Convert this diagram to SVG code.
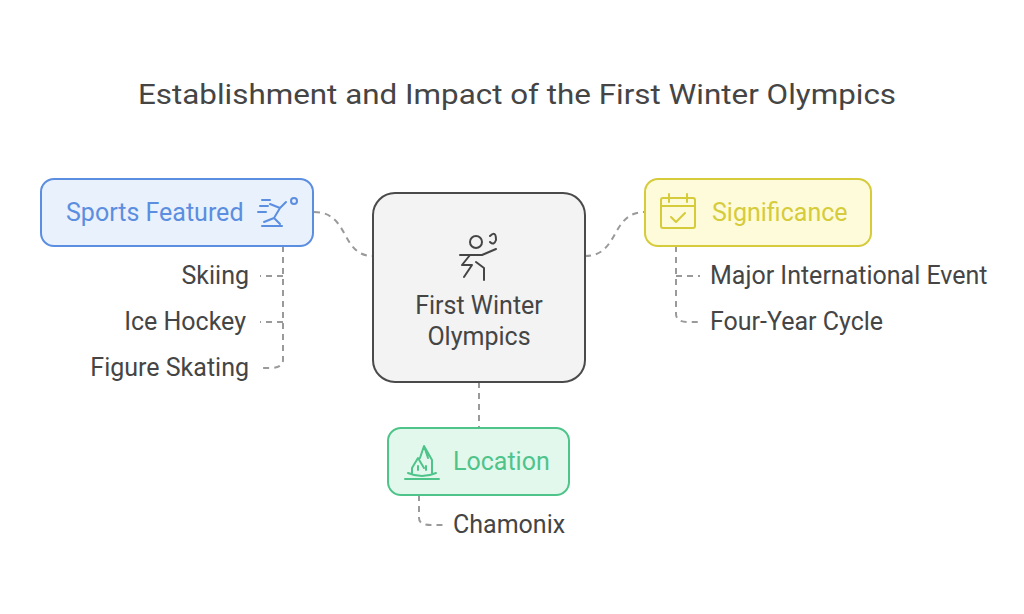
<svg xmlns="http://www.w3.org/2000/svg" width="1024" height="614" viewBox="0 0 1024 614">
<style>
text{font-family:Roboto,"Liberation Sans",sans-serif}
.t{font-size:25px;fill:#454545}
.c{fill:none;stroke:#9a9a9a;stroke-width:2;stroke-dasharray:6 5}
.ic{fill:none;stroke-width:2;stroke-linecap:round;stroke-linejoin:round}
</style>
<rect width="1024" height="614" fill="#fff"/>
<text x="138" y="104" textLength="758" lengthAdjust="spacingAndGlyphs" style="font-size:28px;fill:#454545">Establishment and Impact of the First Winter Olympics</text>
<g id="connectors">
<path class="c" d="M314,212 C350,212 340,256 373,256"/>
<path class="c" d="M585,256 C620,256 610,212 645,212"/>
<path class="c" d="M479,382 V428"/>
<path class="c" d="M283,246 V360 Q283,368 270,368 H260"/>
<path class="c" d="M283,276 H260 M283,322 H260"/>
<path class="c" d="M676,246 V314 Q676,322 688,322 H700"/>
<path class="c" d="M676,276 H700"/>
<path class="c" d="M419,495 V518 Q419,525 431,525 H443"/>
</g>
<g id="sports">
<rect x="41" y="179" width="272" height="67" rx="13" fill="#e9f1fd" stroke="#5b8ee0" stroke-width="2"/>
<text x="66" y="221" style="font-size:25px;fill:#5b8ee0">Sports Featured</text>
<g class="ic" stroke="#5b8ee0"><path d="M262,200 h8 M260,206 h8 M258,212 h8 M270,204 l10,4 l6,-6 M280,208 l-6,10 l6,6 M274,218 l-10,4 M262,226 h20"/><circle cx="294" cy="201" r="3"/></g>
</g>
<g id="center">
<rect x="373" y="193" width="212" height="189" rx="22" fill="#f3f3f3" stroke="#4a4a4a" stroke-width="2"/>
<g class="ic" stroke="#454545"><circle cx="476" cy="242" r="6"/><path d="M460,255 h22 l14,-6 M470,255 l-8,10 h10 l-8,12 M476,262 l8,6 v12 M490,236 q6,-6 6,4 q-2,6 -6,2"/></g>
<text x="479" y="314" text-anchor="middle" class="t">First Winter</text>
<text x="479" y="345" text-anchor="middle" class="t">Olympics</text>
</g>
<g id="significance">
<rect x="645" y="179" width="226" height="67" rx="13" fill="#fdfbd9" stroke="#d6cb3a" stroke-width="2"/>
<g class="ic" stroke="#d6cb3a"><rect x="661" y="198" width="34" height="30" rx="2"/><path d="M661,206 h34 M669,194 v8 M687,194 v8 M671,217 l5,5 l9,-9"/></g>
<text x="712" y="221" style="font-size:25px;fill:#d6cb3a">Significance</text>
</g>
<g id="location">
<rect x="388" y="428" width="181" height="67" rx="13" fill="#e3f8ec" stroke="#4ec48a" stroke-width="2"/>
<g class="ic" stroke="#4ec48a"><path d="M405,479 h34 M408,473 q14,6 28,0 M412,468 l6,-10 l6,10 M420,458 l4,-12 l4,12 M424,446 l8,14 M412,468 v5 M432,460 v13 M418,466 v4 M426,466 v4"/></g>
<text x="453" y="470" style="font-size:25px;fill:#4ec48a">Location</text>
</g>
<g id="labels">
<text x="249" y="284" text-anchor="end" class="t">Skiing</text>
<text x="246" y="330" text-anchor="end" class="t">Ice Hockey</text>
<text x="249" y="376" text-anchor="end" class="t">Figure Skating</text>
<text x="710" y="284" class="t">Major International Event</text>
<text x="710" y="330" class="t">Four-Year Cycle</text>
<text x="453" y="533" class="t">Chamonix</text>
</g>
</svg>
